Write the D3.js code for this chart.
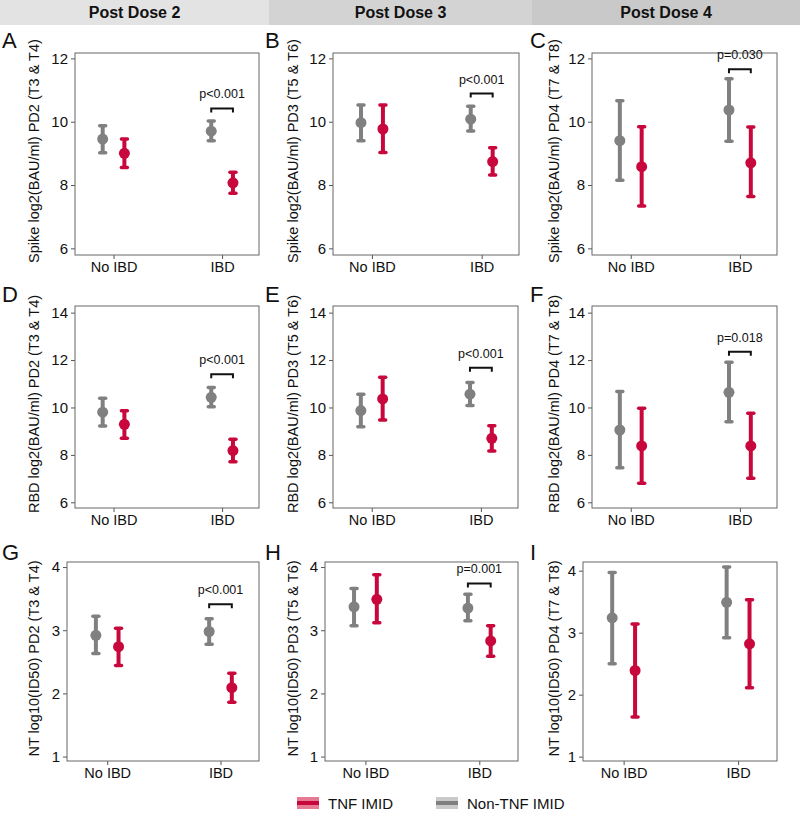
<!DOCTYPE html>
<html>
<head>
<meta charset="utf-8">
<script src="https://cdn.jsdelivr.net/npm/d3@7"></script>
<style>
  body { margin: 0; background: #fff; }
  text { font-family: "Liberation Sans", Arial, sans-serif; }
</style>
</head>
<body>
<svg id="chart" width="800" height="814"></svg>
<script>
// data
var doseHeaders = ["Post Dose 2", "Post Dose 3", "Post Dose 4"];
var groups = ["No IBD", "IBD"];
var panelLetters = ["A", "B", "C", "D", "E", "F", "G", "H", "I"];
var yLabels = [
  "Spike log2(BAU/ml) PD2 (T3 & T4)", "Spike log2(BAU/ml) PD3 (T5 & T6)", "Spike log2(BAU/ml) PD4 (T7 & T8)",
  "RBD log2(BAU/ml) PD2 (T3 & T4)", "RBD log2(BAU/ml) PD3 (T5 & T6)", "RBD log2(BAU/ml) PD4 (T7 & T8)",
  "NT log10(ID50) PD2 (T3 & T4)", "NT log10(ID50) PD3 (T5 & T6)", "NT log10(ID50) PD4 (T7 & T8)"
];
var yTickRows = [[6, 8, 10, 12], [6, 8, 10, 12, 14], [1, 2, 3, 4]];

// [No IBD, IBD] for each panel A..I
var nonTnfMean = [[9.45, 9.70], [9.97, 10.08], [9.40, 10.37],
                  [9.80, 10.43], [9.87, 10.56], [9.05, 10.64],
                  [2.92, 2.98], [3.37, 3.35], [3.24, 3.49]];
var nonTnfLow  = [[9.02, 9.40], [9.40, 9.71], [8.15, 9.38],
                  [9.22, 10.03], [9.19, 10.08], [7.46, 9.40],
                  [2.63, 2.78], [3.07, 3.15], [2.50, 2.92]];
var nonTnfHigh = [[9.87, 10.02], [10.53, 10.49], [10.66, 11.36],
                  [10.39, 10.84], [10.56, 11.05], [10.67, 11.91],
                  [3.22, 3.18], [3.66, 3.57], [3.97, 4.06]];
var tnfMean = [[9.00, 8.07], [9.77, 8.74], [8.58, 8.70],
               [9.29, 8.18], [10.36, 8.70], [8.38, 8.38],
               [2.74, 2.09], [3.49, 2.83], [2.39, 2.82]];
var tnfLow  = [[8.55, 7.74], [9.03, 8.32], [7.34, 7.64],
               [8.70, 7.71], [9.47, 8.16], [6.80, 7.01],
               [2.44, 1.86], [3.12, 2.59], [1.64, 2.11]];
var tnfHigh = [[9.45, 8.40], [10.53, 9.18], [9.84, 9.83],
               [9.86, 8.66], [11.27, 9.23], [9.97, 9.76],
               [3.03, 2.32], [3.88, 3.07], [3.14, 3.53]];
var pLabels = ["p<0.001", "p<0.001", "p=0.030", "p<0.001", "p<0.001", "p=0.018", "p<0.001", "p=0.001", null];
var pLevel  = [10.42, 10.89, 11.66, 11.40, 11.68, 12.35, 3.41, 3.74, null];

var yDomains = [[5.79, 12.17], [5.79, 12.17], [5.79, 12.17],
                [5.76, 14.28], [5.76, 14.28], [5.76, 14.28],
                [0.93, 4.08], [0.93, 4.08], [0.93, 4.14]];

var redCol = "#c8083c", greyCol = "#808080";

var svg = d3.select("#chart");

// header band
var headerEdges = [0, 269, 532, 800];
var headerFills = ["#e3e3e3", "#d3d3d3", "#c9c9c9"];
doseHeaders.forEach(function(h, i) {
  svg.append("rect")
    .attr("x", headerEdges[i]).attr("y", 0)
    .attr("width", headerEdges[i + 1] - headerEdges[i]).attr("height", 25)
    .attr("fill", headerFills[i]);
  svg.append("text")
    .attr("x", (headerEdges[i] + headerEdges[i + 1]) / 2).attr("y", 18)
    .attr("text-anchor", "middle")
    .attr("font-size", 16).attr("font-weight", "bold").attr("fill", "#111")
    .text(h);
});

// panel geometry
var rowTop = [53, 306, 562], rowBottom = [255, 508, 761];
var frameLeft = [[75, 333, 592], [75, 333, 592], [67, 325, 583]];
var frameRight = [[259, 519, 777], [259, 518, 777], [259, 518, 777]];
var labelX = [39, 298, 559];
var letterX = [2, 265, 530];
var letterY = [48, 302, 560];

panelLetters.forEach(function(letter, k) {
  var r = Math.floor(k / 3), c = k % 3;
  var x0 = frameLeft[r][c], x1 = frameRight[r][c];
  var y0 = rowTop[r], y1 = rowBottom[r];

  var x = d3.scaleLinear().domain([0.645, 2.34]).range([x0, x1]);
  var y = d3.scaleLinear().domain(yDomains[k]).range([y1, y0]);

  var g = svg.append("g");

  g.append("text")
    .attr("x", letterX[c]).attr("y", letterY[r])
    .attr("font-size", 22).attr("fill", "#111")
    .text(letter);

  // axes
  var yAxis = d3.axisLeft(y).tickValues(yTickRows[r]).tickFormat(d3.format("d"))
    .tickSize(4).tickPadding(3);
  var xAxis = d3.axisBottom(x).tickValues([1, 2]).tickFormat(function(d) { return groups[d - 1]; })
    .tickSize(4).tickPadding(3);

  var ya = g.append("g").attr("transform", "translate(" + x0 + ",0)").call(yAxis);
  var xa = g.append("g").attr("transform", "translate(0," + y1 + ")").call(xAxis);
  [ya, xa].forEach(function(a) {
    a.select(".domain").remove();
    a.selectAll(".tick line").attr("stroke", "#555");
    a.selectAll(".tick text").attr("font-size", 15).attr("fill", "#111")
      .attr("font-family", "Liberation Sans, Arial, sans-serif");
  });
  xa.selectAll(".tick text").attr("font-size", 14.5);

  g.append("rect")
    .attr("x", x0).attr("y", y0)
    .attr("width", x1 - x0).attr("height", y1 - y0)
    .attr("fill", "none").attr("stroke", "#666").attr("stroke-width", 1);

  g.append("text")
    .attr("transform", "translate(" + labelX[c] + "," + ((y0 + y1) / 2 - 3) + ") rotate(-90)")
    .attr("text-anchor", "middle")
    .attr("font-size", 14.5).attr("fill", "#111")
    .text(yLabels[k]);

  // error bars
  var series = [
    { mean: nonTnfMean[k], lo: nonTnfLow[k], hi: nonTnfHigh[k], dx: -0.1, col: greyCol },
    { mean: tnfMean[k], lo: tnfLow[k], hi: tnfHigh[k], dx: 0.1, col: redCol }
  ];
  series.forEach(function(s) {
    var pts = groups.map(function(grp, i) {
      return { x: i + 1 + s.dx, m: s.mean[i], lo: s.lo[i], hi: s.hi[i] };
    });
    var eb = g.selectAll(null).data(pts).enter().append("g");
    eb.append("line")
      .attr("x1", function(d) { return x(d.x); }).attr("x2", function(d) { return x(d.x); })
      .attr("y1", function(d) { return y(d.lo); }).attr("y2", function(d) { return y(d.hi); })
      .attr("stroke", s.col).attr("stroke-width", 4);
    ["lo", "hi"].forEach(function(key) {
      eb.append("line")
        .attr("x1", function(d) { return x(d.x) - 3; }).attr("x2", function(d) { return x(d.x) + 3; })
        .attr("y1", function(d) { return y(d[key]); }).attr("y2", function(d) { return y(d[key]); })
        .attr("stroke", s.col).attr("stroke-width", 3.5).attr("stroke-linecap", "round");
    });
    eb.append("circle")
      .attr("cx", function(d) { return x(d.x); }).attr("cy", function(d) { return y(d.m); })
      .attr("r", 5.5).attr("fill", s.col);
  });

  // significance bracket
  if (pLabels[k]) {
    var bx0 = x(2 - 0.1), bx1 = x(2 + 0.1), by = y(pLevel[k]);
    g.append("path")
      .attr("d", "M" + bx0 + "," + (by + 4) + "V" + by + "H" + bx1 + "V" + (by + 4))
      .attr("fill", "none").attr("stroke", "#111").attr("stroke-width", 2);
    g.append("text")
      .attr("x", (bx0 + bx1) / 2).attr("y", by - 10)
      .attr("text-anchor", "middle")
      .attr("font-size", 12.5).attr("fill", "#111")
      .text(pLabels[k]);
  }
});

// legend
var legendItems = [
  { label: "TNF IMID", bg: "#e67a92", col: redCol, x: 297 },
  { label: "Non-TNF IMID", bg: "#cacaca", col: greyCol, x: 436 }
];
var ly = 803;
legendItems.forEach(function(it) {
  svg.append("rect")
    .attr("x", it.x).attr("y", ly - 6).attr("width", 22).attr("height", 12)
    .attr("fill", it.bg);
  svg.append("line")
    .attr("x1", it.x).attr("x2", it.x + 22).attr("y1", ly).attr("y2", ly)
    .attr("stroke", it.col).attr("stroke-width", 4);
  svg.append("text")
    .attr("x", it.x + 31).attr("y", ly + 5.5)
    .attr("font-size", 15).attr("fill", "#111")
    .text(it.label);
});
</script>
</body>
</html>
